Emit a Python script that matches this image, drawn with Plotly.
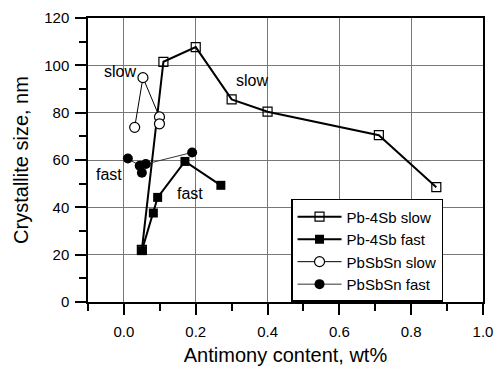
import plotly.graph_objects as go

pb_slow_x = [0.05, 0.11, 0.20, 0.30, 0.40, 0.71, 0.87]
pb_slow_y = [22, 101.5, 107.7, 85.6, 80.4, 70.5, 48.5]
pb_fast_x = [0.05, 0.082, 0.094, 0.17, 0.27]
pb_fast_y = [21.7, 37.6, 44.2, 59.4, 49.3]
sn_slow_x = [0.03, 0.053, 0.099, 0.099]
sn_slow_y = [73.8, 94.8, 78.2, 75.3]
sn_fast_x = [0.011, 0.044, 0.05, 0.061, 0.19]
sn_fast_y = [60.6, 57.6, 54.6, 58.3, 63.2]

names = ["Pb-4Sb slow", "Pb-4Sb fast", "PbSbSn slow", "PbSbSn fast"]

FONT = "Arial, Liberation Sans, sans-serif"

fig = go.Figure()
fig.add_trace(go.Scatter(x=pb_slow_x, y=pb_slow_y, name=names[0], mode="lines+markers",
                         line=dict(color="black", width=2),
                         marker=dict(symbol="square-open", size=9, color="black", line=dict(width=1.2))))
fig.add_trace(go.Scatter(x=pb_fast_x, y=pb_fast_y, name=names[1], mode="lines+markers",
                         line=dict(color="black", width=2),
                         marker=dict(symbol="square", size=9, color="black")))
fig.add_trace(go.Scatter(x=sn_slow_x, y=sn_slow_y, name=names[2], mode="lines+markers",
                         line=dict(color="black", width=1),
                         marker=dict(symbol="circle", size=10, color="white", line=dict(color="black", width=1.2))))
fig.add_trace(go.Scatter(x=sn_fast_x, y=sn_fast_y, name=names[3], mode="lines+markers",
                         line=dict(color="#333", width=1),
                         marker=dict(symbol="circle", size=10, color="black")))

for txt, x, y in [("slow", -0.011, 97.2), ("slow", 0.358, 93.4), ("fast", -0.042, 53.7), ("fast", 0.183, 46)]:
    fig.add_annotation(x=x, y=y, text=txt, showarrow=False, font=dict(size=16, color="black", family=FONT))

fig.update_layout(
    width=502, height=372,
    margin=dict(l=88, r=19, t=18, b=70),
    paper_bgcolor="white", plot_bgcolor="white",
    font=dict(family=FONT, color="black", size=15),
    legend=dict(x=0.514, y=0.363, xanchor="left", yanchor="top",
                bgcolor="white", bordercolor="black", borderwidth=1.5,
                font=dict(size=15), tracegroupgap=0, itemwidth=44),
)
fig.update_xaxes(range=[-0.1, 1.0], tickvals=[0, 0.2, 0.4, 0.6, 0.8, 1.0],
                 ticktext=["0.0", "0.2", "0.4", "0.6", "0.8", "1.0"],
                 showgrid=True, gridcolor="#777", gridwidth=1,
                 showline=True, linecolor="black", linewidth=1.5, mirror=True,
                 ticks="outside", ticklen=11, tickwidth=1.5, tickcolor="black",
                 ticklabelstandoff=4, automargin=False,
                 minor=dict(tickvals=[-0.1, 0.1, 0.3, 0.5, 0.7, 0.9], ticks="outside", ticklen=7, tickcolor="black", tickwidth=1.5, showgrid=False),
                 zeroline=False,
                 title=dict(text="Antimony content, wt%", font=dict(size=20), standoff=9),
                 tickfont=dict(size=15))
fig.update_yaxes(range=[0, 120], tickvals=[0, 20, 40, 60, 80, 100, 120],
                 showgrid=True, gridcolor="#777", gridwidth=1,
                 showline=True, linecolor="black", linewidth=1.5, mirror=True,
                 ticks="outside", ticklen=11, tickwidth=1.5, tickcolor="black",
                 ticklabelstandoff=3, automargin=False,
                 minor=dict(tickvals=[10, 30, 50, 70, 90, 110], ticks="outside", ticklen=7, tickcolor="black", tickwidth=1.5, showgrid=False),
                 zeroline=False,
                 title=dict(text="Crystallite size, nm", font=dict(size=20), standoff=10),
                 tickfont=dict(size=15))

fig.write_html("out.html")
